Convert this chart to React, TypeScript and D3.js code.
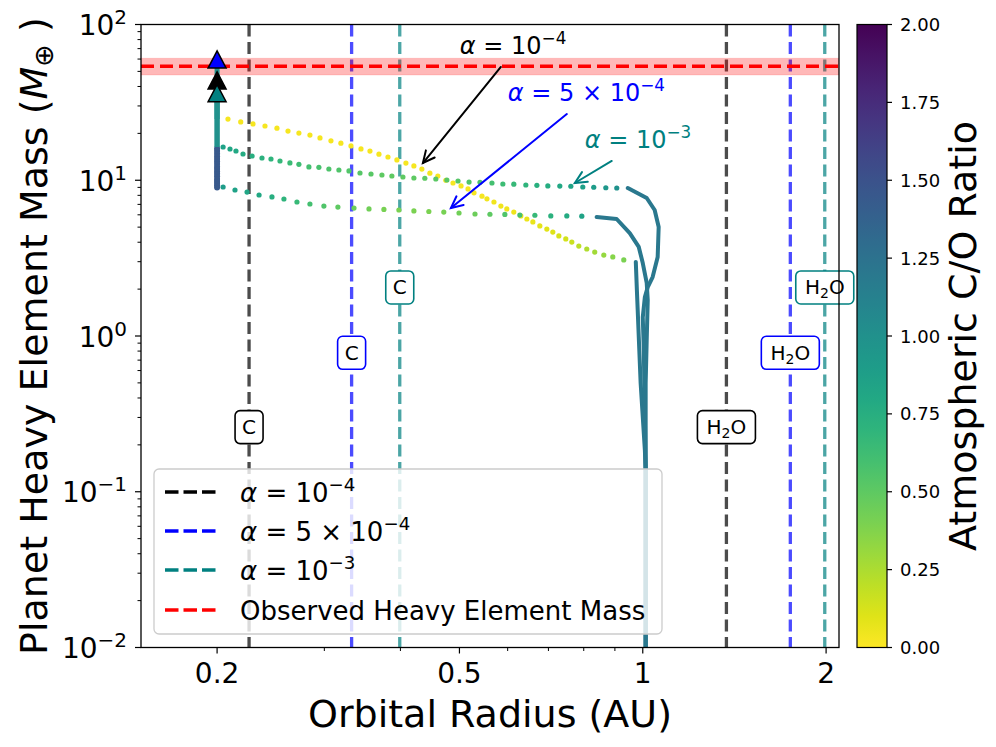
import React from 'react';
import * as d3 from 'd3';

type Dot = [number, number, number]; // [radius AU, mass M_earth, C/O]

// three disk models: alpha = 1e-4, 5e-4, 1e-3
const alphaColors = ['#000000', '#0000ff', '#008080'];
const alphaCoef = ['', '5', ''];
const alphaExp = ['4', '4', '3'];

// snow lines (AU) and where their labels sit (M_earth)
const carbonLines = [0.2257, 0.3326, 0.399];
const waterLines = [1.372, 1.747, 1.99];
const snowLabelMass = [0.26, 0.78, 2.05];

// observed heavy element mass
const obsMass = 54;
const obsLow = 47.4;
const obsHigh = 60.7;

// end points (triangles), same order as alphas
const finalRadius = 0.2;
const finalMass = [43.7, 59.5, 36.2];

// growth phase near 1 AU (solid lines), [r, M]
const solidCO = 1.2;
const solidA: [number, number][] = [
  [1.011, 0.0046], [1.011, 0.137], [1.008, 0.185], [0.992, 0.499], [0.985, 0.985],
  [0.981, 1.47], [0.978, 1.97], [0.974, 2.99],
];
const solidB: [number, number][] = [
  [1.011, 0.0046], [1.011, 0.138], [1.011, 0.499], [1.015, 0.943], [1.019, 1.70],
  [1.015, 2.19], [1.0, 2.94], [0.985, 3.73], [0.952, 4.58], [0.906, 5.64], [0.84, 5.81],
];
const solidC: [number, number][] = [
  [1.011, 0.0046], [1.011, 0.144], [1.008, 0.302], [1.004, 0.813], [1.0, 1.32],
  [1.008, 1.78], [1.019, 2.06], [1.038, 2.39], [1.058, 3.22], [1.062, 5.01],
  [1.046, 6.44], [1.015, 7.69], [0.945, 8.92],
];

// migration phase (dots)
const dotsA: Dot[] = [
  [0.2084, 24.7, 0.03], [0.2187, 23.7, 0.03], [0.2291, 23.0, 0.03], [0.2397, 22.3, 0.03],
  [0.2508, 21.6, 0.03], [0.2615, 20.7, 0.03], [0.2725, 20.1, 0.03], [0.2841, 19.5, 0.03],
  [0.2951, 18.7, 0.03], [0.3076, 17.9, 0.03], [0.3194, 17.3, 0.03], [0.3318, 16.6, 0.03],
  [0.3446, 15.9, 0.03], [0.3565, 15.4, 0.03], [0.3688, 14.7, 0.03], [0.3816, 14.1, 0.03],
  [0.3947, 13.5, 0.03], [0.4084, 12.9, 0.03], [0.4209, 12.35, 0.03], [0.4338, 11.8, 0.03],
  [0.4471, 11.1, 0.03], [0.4608, 10.65, 0.03], [0.4749, 10.0, 0.03], [0.488, 9.6, 0.03],
  [0.503, 9.2, 0.03], [0.5165, 8.8, 0.03], [0.5283, 8.3, 0.03], [0.5445, 7.9, 0.03],
  [0.5548, 7.6, 0.04], [0.5697, 7.25, 0.04], [0.5848, 6.83, 0.04], [0.5981, 6.54, 0.04],
  [0.6141, 6.25, 0.05], [0.6307, 5.9, 0.05], [0.6452, 5.64, 0.06], [0.66, 5.4, 0.07],
  [0.6776, 5.09, 0.08], [0.6958, 4.86, 0.09], [0.7117, 4.65, 0.1], [0.7281, 4.39, 0.12],
  [0.7475, 4.2, 0.14], [0.7647, 4.01, 0.16], [0.7852, 3.78, 0.2], [0.8092, 3.62, 0.24],
  [0.8339, 3.46, 0.28], [0.863, 3.31, 0.32], [0.8929, 3.22, 0.36], [0.9307, 3.08, 0.4],
];
const dotsB: Dot[] = [
  [0.2046, 9.05, 0.9], [0.214, 8.66, 0.85], [0.224, 8.4, 0.82], [0.2344, 8.04, 0.8],
  [0.2461, 7.81, 0.75], [0.2575, 7.58, 0.7], [0.2705, 7.25, 0.65], [0.2841, 7.04, 0.6],
  [0.2995, 6.83, 0.55], [0.3158, 6.73, 0.5], [0.3356, 6.63, 0.46], [0.3552, 6.54, 0.43],
  [0.3758, 6.5, 0.41], [0.3977, 6.44, 0.4], [0.4209, 6.35, 0.4], [0.4454, 6.3, 0.4],
  [0.4713, 6.25, 0.41], [0.4992, 6.16, 0.43], [0.5303, 6.07, 0.45], [0.5611, 6.05, 0.5],
  [0.5937, 6.03, 0.55], [0.6283, 5.98, 0.6], [0.665, 5.96, 0.66], [0.7063, 5.9, 0.72],
  [0.7504, 5.9, 0.78], [0.7941, 5.88, 0.84],
];
const dotsC: Dot[] = [
  [0.2046, 16.35, 0.85], [0.21, 15.87, 0.82], [0.2148, 15.41, 0.8], [0.2206, 14.74, 0.78],
  [0.2283, 14.31, 0.75], [0.237, 13.9, 0.72], [0.2452, 13.69, 0.7], [0.2537, 13.29, 0.67],
  [0.2634, 12.91, 0.64], [0.2725, 12.66, 0.62], [0.283, 12.17, 0.6], [0.2939, 12.1, 0.58],
  [0.3052, 11.81, 0.56], [0.317, 11.64, 0.55], [0.3293, 11.47, 0.54], [0.3433, 11.13, 0.53],
  [0.3579, 10.97, 0.52], [0.373, 10.81, 0.5], [0.3873, 10.65, 0.5], [0.4038, 10.49, 0.5],
  [0.4209, 10.34, 0.5], [0.4387, 10.3, 0.5], [0.4573, 10.19, 0.51], [0.4768, 10.04, 0.52],
  [0.4973, 9.89, 0.53], [0.5185, 9.74, 0.55], [0.5404, 9.7, 0.57], [0.5654, 9.6, 0.6],
  [0.5892, 9.46, 0.63], [0.6141, 9.43, 0.66], [0.6427, 9.32, 0.7], [0.6701, 9.28, 0.73],
  [0.6984, 9.19, 0.76], [0.7308, 9.17, 0.8], [0.7619, 9.15, 0.83], [0.7971, 9.05, 0.86],
  [0.8308, 9.02, 0.9], [0.8696, 8.95, 0.94], [0.9064, 8.92, 0.98],
];

// gas accretion at 0.2 AU
const riseCO = 1.0;
const riseStart = [24.7, 16.35, 16.35];
const riseDotsB = [9.0, 9.3, 9.6, 9.9, 10.2, 10.6, 11.0, 11.4, 11.8, 12.2, 12.7, 13.2, 13.7, 14.2, 14.8, 15.4, 16.0];
const riseDotsCO = 1.45;

// annotation arrows: [text r, text M, tail r, tail M, tip r, tip M]
const annotations = [
  [0.5008, 64.7, 0.5848, 53.4, 0.4355, 12.9],
  [0.6004, 32.3, 0.7504, 26.6, 0.4842, 6.63],
  [0.8032, 16.1, 0.8894, 13.3, 0.7735, 9.6],
];

const xTicksLabeled = [0.2, 0.5, 1, 2];
const xTicksMinor = [0.3, 0.4, 0.6, 0.7, 0.8, 0.9];
const yTicksMajor = [0.01, 0.1, 1, 10, 100];
const cbarTicks = [0, 0.25, 0.5, 0.75, 1.0, 1.25, 1.5, 1.75, 2.0];

const FONT = 'DejaVu Sans';

function AlphaLabel({ coef, exp, fs }: { coef: string; exp: string; fs: number }) {
  return (
    <>
      <tspan fontStyle="italic">α</tspan>
      <tspan>{' = '}</tspan>
      {coef ? <tspan>{coef + ' × '}</tspan> : null}
      <tspan>10</tspan>
      <tspan dy={-0.42 * fs} fontSize={0.7 * fs}>{'−' + exp}</tspan>
    </>
  );
}

function Arrow({ x1, y1, x2, y2, color }: { x1: number; y1: number; x2: number; y2: number; color: string }) {
  const a = Math.atan2(y2 - y1, x2 - x1);
  const L = 13, s = 0.45;
  const p1 = [x2 - L * Math.cos(a - s), y2 - L * Math.sin(a - s)];
  const p2 = [x2 - L * Math.cos(a + s), y2 - L * Math.sin(a + s)];
  return (
    <g stroke={color} strokeWidth={2} fill="none" strokeLinecap="round">
      <line x1={x1} y1={y1} x2={x2} y2={y2} />
      <path d={`M${p1[0]},${p1[1]} L${x2},${y2} L${p2[0]},${p2[1]}`} />
    </g>
  );
}

export default function App() {
  const L = 141, R = 839, T = 24.5, B = 647.5;
  const x = d3.scaleLog().domain([0.15, 2.1]).range([L, R]);
  const y = d3.scaleLog().domain([0.01, 100]).range([B, T]);
  const co = (c: number) => d3.interpolateViridis(1 - c / 2);
  const line = d3.line<[number, number]>().x(d => x(d[0])).y(d => y(d[1]));

  const yMinor: number[] = [];
  [0.01, 0.1, 1, 10].forEach(d => { for (let k = 2; k <= 9; k++) yMinor.push(d * k); });

  const cbX0 = 857, cbX1 = 887;
  const cb = d3.scaleLinear().domain([0, 2]).range([B, T]);
  const gradStops = d3.range(0, 1.0001, 0.05);

  const legendRows = [0, 1, 2, 3];
  const legY = [492, 531, 570, 610];

  return (
    <svg width={996} height={747} style={{ position: 'absolute', left: 0, top: 0, background: '#fff' }}
      fontFamily={FONT}>
      <defs>
        <clipPath id="plot"><rect x={L} y={T} width={R - L} height={B - T} /></clipPath>
        <linearGradient id="cbar" x1="0" y1="1" x2="0" y2="0">
          {gradStops.map(t => <stop key={t} offset={t} stopColor={d3.interpolateViridis(1 - t)} />)}
        </linearGradient>
      </defs>
      <rect width={996} height={747} fill="#fff" />

      <g clipPath="url(#plot)">
        {/* snow lines */}
        {alphaColors.map((c, i) => (
          <g key={'snow' + i} stroke={c} strokeWidth={3.3} strokeDasharray="12 5.5" opacity={0.7}>
            <line x1={x(carbonLines[i])} x2={x(carbonLines[i])} y1={T} y2={B} />
            <line x1={x(waterLines[i])} x2={x(waterLines[i])} y1={T} y2={B} />
          </g>
        ))}

        {/* observed mass */}
        <rect x={L} width={R - L} y={y(obsHigh)} height={y(obsLow) - y(obsHigh)} fill="red" fillOpacity={0.28}
          stroke="red" strokeOpacity={0.12} />
        <line x1={L} x2={R} y1={y(obsMass)} y2={y(obsMass)} stroke="red" strokeWidth={3.5} strokeDasharray="13 6" />

        {/* growth near 1 AU */}
        {[solidA, solidB, solidC].map((s, i) => (
          <path key={'solid' + i} d={line(s) || ''} fill="none" stroke={co(solidCO)} strokeWidth={4}
            strokeLinecap="round" strokeLinejoin="round" />
        ))}

        {/* migration dots */}
        {[dotsA, dotsC, dotsB].map((ds, i) => (
          <g key={'dots' + i}>
            {ds.map((d, j) => <circle key={j} cx={x(d[0])} cy={y(d[1])} r={2.6} fill={co(d[2])} />)}
          </g>
        ))}

        {/* accretion at 0.2 AU */}
        {riseDotsB.map((m, j) => <circle key={'rd' + j} cx={x(finalRadius)} cy={y(m)} r={3} fill={co(riseDotsCO)} />)}
        {riseStart.map((m0, i) => (
          <line key={'rise' + i} x1={x(finalRadius)} x2={x(finalRadius)} y1={y(m0)} y2={y(finalMass[i])}
            stroke={co(riseCO)} strokeWidth={5} />
        ))}
        {[1, 0, 2].map(i => {
          const cx = x(finalRadius), cy = y(finalMass[i]);
          return (
            <path key={'tri' + i} d={`M${cx},${cy - 8.7} L${cx + 9},${cy + 8.5} L${cx - 9},${cy + 8.5} Z`}
              fill={alphaColors[i]} stroke="#000" strokeWidth={1.5} strokeLinejoin="miter" />
          );
        })}
      </g>

      {/* snow line labels */}
      {alphaColors.map((c, i) => {
        const yy = y(snowLabelMass[i]);
        const xc = x(carbonLines[i]);
        const xw = x(waterLines[i]);
        return (
          <g key={'lab' + i} fontSize={20}>
            <rect x={xc - 14} y={yy - 16.5} width={28} height={33} rx={5} fill="#fff" stroke={c} strokeWidth={1.6} />
            <text x={xc} y={yy + 7} textAnchor="middle">C</text>
            <rect x={xw - 29} y={yy - 16.5} width={58} height={33} rx={5} fill="#fff" stroke={c} strokeWidth={1.6} />
            <text x={xw} y={yy + 7} textAnchor="middle">H<tspan fontSize={14} dy={4}>2</tspan><tspan dy={-4}>O</tspan></text>
          </g>
        );
      })}

      {/* annotations */}
      {annotations.map((a, i) => (
        <g key={'ann' + i}>
          <text x={x(a[0])} y={y(a[1])} fontSize={24} fill={alphaColors[i]} style={{ whiteSpace: 'pre' }}>
            <AlphaLabel coef={alphaCoef[i]} exp={alphaExp[i]} fs={24} />
          </text>
          <Arrow x1={x(a[2])} y1={y(a[3])} x2={x(a[4])} y2={y(a[5])} color={alphaColors[i]} />
        </g>
      ))}

      {/* legend */}
      <rect x={154} y={469} width={508} height={165} rx={5} fill="#fff" fillOpacity={0.8} stroke="#cccccc" strokeWidth={1.3} />
      {legendRows.map(i => (
        <g key={'leg' + i}>
          <line x1={165} x2={216} y1={legY[i]} y2={legY[i]} stroke={i < 3 ? alphaColors[i] : 'red'}
            strokeWidth={3.6} strokeDasharray="13.5 5" />
          <text x={240} y={legY[i] + 9.5} fontSize={26} style={{ whiteSpace: 'pre' }}>
            {i < 3 ? <AlphaLabel coef={alphaCoef[i]} exp={alphaExp[i]} fs={26} /> : 'Observed Heavy Element Mass'}
          </text>
        </g>
      ))}

      {/* frame */}
      <rect x={L} y={T} width={R - L} height={B - T} fill="none" stroke="#000" strokeWidth={1.3} />

      {/* y axis */}
      {yTicksMajor.map(t => (
        <g key={'yt' + t}>
          <line x1={L - 6} x2={L} y1={y(t)} y2={y(t)} stroke="#000" strokeWidth={1.2} />
          <text x={127} y={y(t) + 10.5} fontSize={28} textAnchor="end">
            10<tspan fontSize={20} dy={-11}>{t < 1 ? '−' + Math.round(-Math.log10(t)) : String(Math.round(Math.log10(t)))}</tspan>
          </text>
        </g>
      ))}
      {yMinor.map(t => (
        <line key={'ym' + t} x1={L - 3.5} x2={L} y1={y(t)} y2={y(t)} stroke="#000" strokeWidth={1} />
      ))}
      <text transform={`translate(47, ${(T + B) / 2}) rotate(-90)`} fontSize={38} textAnchor="middle" style={{ whiteSpace: 'pre' }}>
        Planet Heavy Element Mass (<tspan fontStyle="italic">M</tspan><tspan fontSize={27} dy={6}>⊕</tspan><tspan dy={-6}>{' )'}</tspan>
      </text>

      {/* x axis */}
      {xTicksLabeled.map(t => (
        <g key={'xt' + t}>
          <line x1={x(t)} x2={x(t)} y1={B} y2={B + 6} stroke="#000" strokeWidth={1.2} />
          <text x={x(t)} y={683} fontSize={28} textAnchor="middle">{String(t)}</text>
        </g>
      ))}
      {xTicksMinor.map(t => (
        <line key={'xm' + t} x1={x(t)} x2={x(t)} y1={B} y2={B + 3.5} stroke="#000" strokeWidth={1} />
      ))}
      <text x={(L + R) / 2} y={727} fontSize={38} textAnchor="middle">Orbital Radius (AU)</text>

      {/* colorbar */}
      <rect x={cbX0} y={T} width={cbX1 - cbX0} height={B - T} fill="url(#cbar)" stroke="#000" strokeWidth={1.2} />
      {cbarTicks.map(t => (
        <g key={'cb' + t}>
          <line x1={cbX1} x2={cbX1 + 5} y1={cb(t)} y2={cb(t)} stroke="#000" strokeWidth={1.2} />
          <text x={900} y={cb(t) + 6.5} fontSize={18}>{t.toFixed(2)}</text>
        </g>
      ))}
      <text transform={`translate(976, ${(T + B) / 2}) rotate(-90)`} fontSize={38} textAnchor="middle">Atmospheric C/O Ratio</text>
    </svg>
  );
}
